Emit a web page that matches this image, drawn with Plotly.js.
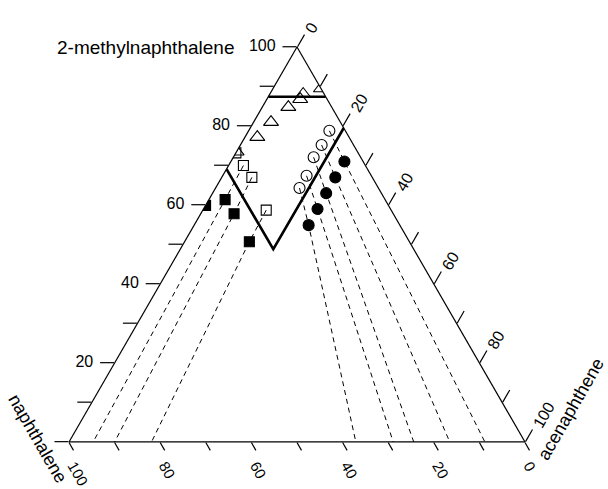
<!DOCTYPE html>
<html><head><meta charset="utf-8">
<script src="https://cdn.plot.ly/plotly-3.0.1.min.js"></script>
<style>html,body{margin:0;padding:0;background:#fff}</style>
</head><body><div id="chart" style="width:608px;height:489px"></div>
<script>
// a = 2-methylnaphthalene, b = naphthalene, c = acenaphthene (%)
const triA = [73.5, 77.2, 81.0, 84.8, 86.8, 88.1, 89.5];
const triB = [26.5, 20.1, 15.2, 9.5, 5.9, 4.6, 0.0];
const triC = [0.0, 2.7, 3.8, 5.7, 7.3, 7.3, 10.5];

const openSqA = [73.2, 70.0, 67.0, 58.7];
const openSqB = [26.8, 26.75, 26.4, 27.4];
const openSqC = [0.0, 3.25, 6.6, 13.9];

const fillSqA = [59.9, 61.4, 57.8, 50.7];
const fillSqB = [40.1, 35.1, 34.9, 35.1];
const fillSqC = [0.0, 3.55, 7.3, 14.2];

// acenaphthene value where each square trend line meets the base (null = no line)
const sqBaseC = [null, 5.3, 10.0, 18.1];

const openCirA = [78.8, 75.2, 72.1, 67.4, 64.3];
const openCirB = [3.5, 7.0, 10.3, 14.2, 17.3];
const openCirC = [17.7, 17.8, 17.6, 18.4, 18.4];

const fillCirA = [71.0, 67.0, 63.0, 59.0, 54.9];
const fillCirB = [4.1, 8.1, 12.1, 16.0, 20.0];
const fillCirC = [24.9, 24.9, 24.9, 25.0, 25.1];

const cirBaseC = [91.2, 83.5, 75.6, 71.1, 62.9];

// boundary lines
const topLineA = [87.4, 87.4];
const topLineB = [12.6, 0.0];
const topLineC = [0.0, 12.6];

const vLineA = [69.1, 48.8, 79.5];
const vLineB = [30.9, 30.8, 0.0];
const vLineC = [0.0, 20.4, 20.5];

const tickVals = [0, 10, 20, 30, 40, 50, 60, 70, 80, 90, 100];
const aTickText = ['', '', '20\u00a0', '', '40\u00a0', '', '60\u00a0', '', '80\u00a0', '', '100\u00a0'];
const bcTickText = ['0', '', '20', '', '40', '', '60', '', '80', '', '100'];

const traces = [];
function dashTrace(a, b, c) {
  traces.push({type: 'scatterternary', mode: 'lines', a: a, b: b, c: c,
    line: {color: 'black', width: 1, dash: '5px,4px'}, hoverinfo: 'skip', showlegend: false});
}
for (let i = 0; i < sqBaseC.length; i++) {
  if (sqBaseC[i] === null) continue;
  dashTrace([openSqA[i], fillSqA[i], 0], [openSqB[i], fillSqB[i], 100 - sqBaseC[i]], [openSqC[i], fillSqC[i], sqBaseC[i]]);
}
for (let i = 0; i < cirBaseC.length; i++) {
  dashTrace([openCirA[i], fillCirA[i], 0], [openCirB[i], fillCirB[i], 100 - cirBaseC[i]], [openCirC[i], fillCirC[i], cirBaseC[i]]);
}
traces.push({type: 'scatterternary', mode: 'lines', a: topLineA, b: topLineB, c: topLineC,
  line: {color: 'black', width: 2.6}, showlegend: false});
traces.push({type: 'scatterternary', mode: 'lines', a: vLineA, b: vLineB, c: vLineC,
  line: {color: 'black', width: 2.6}, showlegend: false});
function mk(a, b, c, sym, size) {
  traces.push({type: 'scatterternary', mode: 'markers', a: a, b: b, c: c,
    marker: {symbol: sym, size: size, color: 'black', line: {color: 'black', width: 1.1}}, showlegend: false});
}
mk(triA, triB, triC, 'triangle-up-open', 13);
mk(openSqA, openSqB, openSqC, 'square-open', 10);
mk(fillSqA, fillSqB, fillSqC, 'square', 10);
mk(openCirA, openCirB, openCirC, 'circle-open', 11);
mk(fillCirA, fillCirB, fillCirC, 'circle', 11);

const font = {family: 'Liberation Sans, Arial, Helvetica, sans-serif', color: 'black'};
function axis(text, angle, len, fs) {
  return {tickmode: 'array', tickvals: tickVals, ticktext: text, ticks: 'outside', ticklen: len,
    tickwidth: 1.2, tickcolor: 'black', showgrid: false, linecolor: 'black', linewidth: 1.2,
    tickangle: angle, tickfont: Object.assign({size: fs}, font), title: {text: ''}};
}
const layout = {
  width: 608, height: 489,
  margin: {l: 69, r: 83, t: 47, b: 47},
  paper_bgcolor: 'white',
  showlegend: false,
  ternary: {
    sum: 100, bgcolor: 'white',
    aaxis: axis(aTickText, 0, 14, 16),
    baxis: axis(bcTickText, 60, 9, 15),
    caxis: axis(bcTickText, -60, 14, 16)
  },
  annotations: [
    {text: '2-methylnaphthalene', xref: 'paper', yref: 'paper', x: 0.366, y: 1.0, xanchor: 'right', yanchor: 'middle', showarrow: false, font: Object.assign({size: 19}, font)},
    {text: 'naphthalene', xref: 'paper', yref: 'paper', x: -0.068, y: 0.008, xanchor: 'center', yanchor: 'middle', textangle: 60, showarrow: false, font: Object.assign({size: 18}, font)},
    {text: 'acenaphthene', xref: 'paper', yref: 'paper', x: 1.101, y: 0.083, xanchor: 'center', yanchor: 'middle', textangle: -60, showarrow: false, font: Object.assign({size: 18}, font)}
  ]
};
Plotly.newPlot('chart', traces, layout, {displayModeBar: false, staticPlot: true});
</script></body></html>
